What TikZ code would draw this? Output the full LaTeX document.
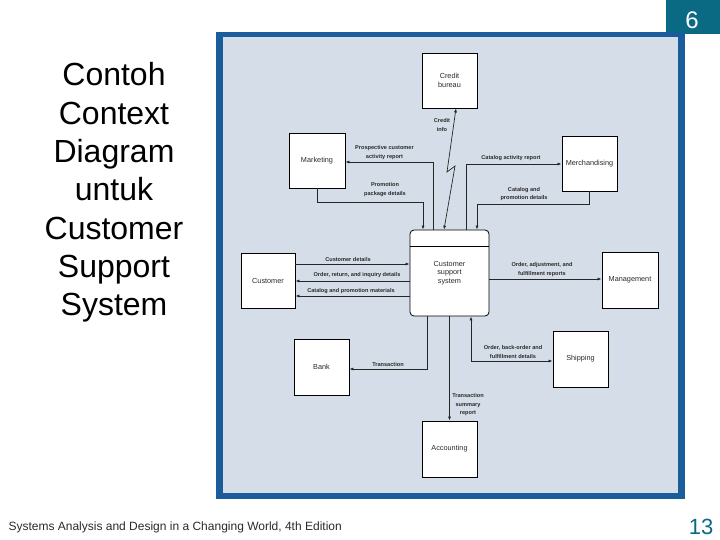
\documentclass[tikz,border=0pt]{standalone}
\usepackage{fontspec}
\setmainfont{Liberation Sans}
\usetikzlibrary{arrows.meta}
\definecolor{teal6}{HTML}{0B6A83}
\definecolor{framebl}{HTML}{1B5C9B}
\definecolor{framefill}{HTML}{D5DEE8}
\definecolor{txtgray}{HTML}{2A2A2A}
\tikzset{
  ent/.style={draw=black, line width=0.8pt, fill=white, minimum width=55pt, minimum height=55pt,
    inner sep=1pt, align=center, font=\fontsize{7.3}{8.5}\selectfont, text=txtgray},
  flow/.style={draw=black!85, line width=0.7pt, -{Latex[length=4pt,width=3pt]}},
  flow2/.style={draw=black!85, line width=0.7pt, {Latex[length=4pt,width=3pt]}-{Latex[length=4pt,width=3pt]}},
  lbl/.style={font=\fontsize{5.6}{8.5}\selectfont\bfseries, text=txtgray, align=center, inner sep=0pt}
}
\begin{document}
\begin{tikzpicture}[x=1pt,y=-1pt]
\useasboundingbox (0,0) rectangle (720,540);
% slide decorations
\fill[teal6] (666,0) rectangle (720,34);
\node[text=white, font=\fontsize{24}{26}\selectfont] (pnum) at (692,20) {6};
\fill[framebl] (216,32) rectangle (685,499);
\fill[framefill] (223,37) rectangle (678,493);
\node[align=center, font=\fontsize{32}{38.3}\selectfont] (title) at (114,192.5) {Contoh\\Context\\Diagram\\untuk\\Customer\\Support\\System};
\node[anchor=west, font=\fontsize{12}{13}\selectfont, text=txtgray] (foot) at (5,527.5) {Systems Analysis and Design in a Changing World, 4th Edition};
\node[text=teal6, font=\fontsize{22}{24}\selectfont] (snum) at (701,527) {13};
% entities
\node[ent] (cb) at (449.5,80.5) {Credit\\bureau};
\node[ent, minimum width=56pt] (mkt) at (317,160.5) {Marketing};
\node[ent] (mer) at (589.5,163.5) {Merchandising};
\node[ent, minimum width=54pt] (cus) at (268,280.5) {Customer};
\node[ent, minimum width=56pt, minimum height=56pt] (mgt) at (630,280) {Management};
\node[ent, minimum height=56pt] (bank) at (321.5,367) {Bank};
\node[ent, minimum height=56pt] (shp) at (580.5,359) {Shipping};
\node[ent, minimum height=56pt] (acc) at (449.5,449) {Accounting};
\node[draw=black, line width=0.8pt, fill=white, rounded corners=4pt, minimum width=79pt, minimum height=86pt,
  align=center, font=\fontsize{7.3}{8.5}\selectfont, text=txtgray] (css) at (449.5,273) {Customer\\support\\system};
\draw[line width=0.8pt] ([yshift=-17pt]css.north west) -- ([yshift=-17pt]css.north east);
% bend coordinates
\coordinate (b1) at (433,162);
\coordinate (b3) at (466,164);
\coordinate (b5) at (423,202);
\coordinate (b6) at (477,204);
\coordinate (b7) at (0,264);
\coordinate (b8) at (0,281);
\coordinate (b9) at (0,296);
\coordinate (b10) at (0,279);
\coordinate (b11) at (427,369);
\coordinate (b12) at (471,361);
\coordinate (c1) at (444,0);
\coordinate (c2) at (455,166);
\coordinate (c3) at (447,172);
\coordinate (c4) at (456,0);
% flows
\draw[flow] (css.north -| b1) |- (mkt.east |- b1);
\draw[flow2] (css.north -| c1) -- (c2) -- (c3) -- (cb.south -| c4);
\draw[flow] (css.north -| b3) |- (mer.west |- b3);
\draw[flow] (mkt.south) |- (b5) -- (css.north -| b5);
\draw[flow] (mer.south) |- (b6) -- (css.north -| b6);
\draw[flow] (cus.east |- b7) -- (css.west |- b7);
\draw[flow] (css.west |- b8) -- (cus.east |- b8);
\draw[flow] (css.west |- b9) -- (cus.east |- b9);
\draw[flow] (css.east |- b10) -- (mgt.west |- b10);
\draw[flow] (css.south -| b11) |- (bank.east |- b11);
\draw[flow] (css.south -| acc.north) -- (acc.north);
\draw[flow2] (css.south -| b12) |- (shp.west |- b12);
% labels
\node[lbl] (l1) at (384.5,152.5) {Prospective customer\\activity report};
\node[lbl] (l2) at (442,125) {Credit\\info};
\node[lbl] (l3) at (511,158) {Catalog activity report};
\node[lbl] (l4) at (385,189.5) {Promotion\\package details};
\node[lbl] (l5) at (524,194) {Catalog and\\promotion details};
\node[lbl] (l6) at (348,259) {Customer details};
\node[lbl] (l7) at (357,275) {Order, return, and inquiry details};
\node[lbl] (l8) at (351,291) {Catalog and promotion materials};
\node[lbl] (l9) at (542,269.5) {Order, adjustment, and\\fulfillment reports};
\node[lbl] (l10) at (388,364) {Transaction};
\node[lbl] (l11) at (468,405) {Transaction\\summary\\report};
\node[lbl] (l12) at (513,352) {Order, back-order and\\fulfillment details};
\end{tikzpicture}
\end{document}
